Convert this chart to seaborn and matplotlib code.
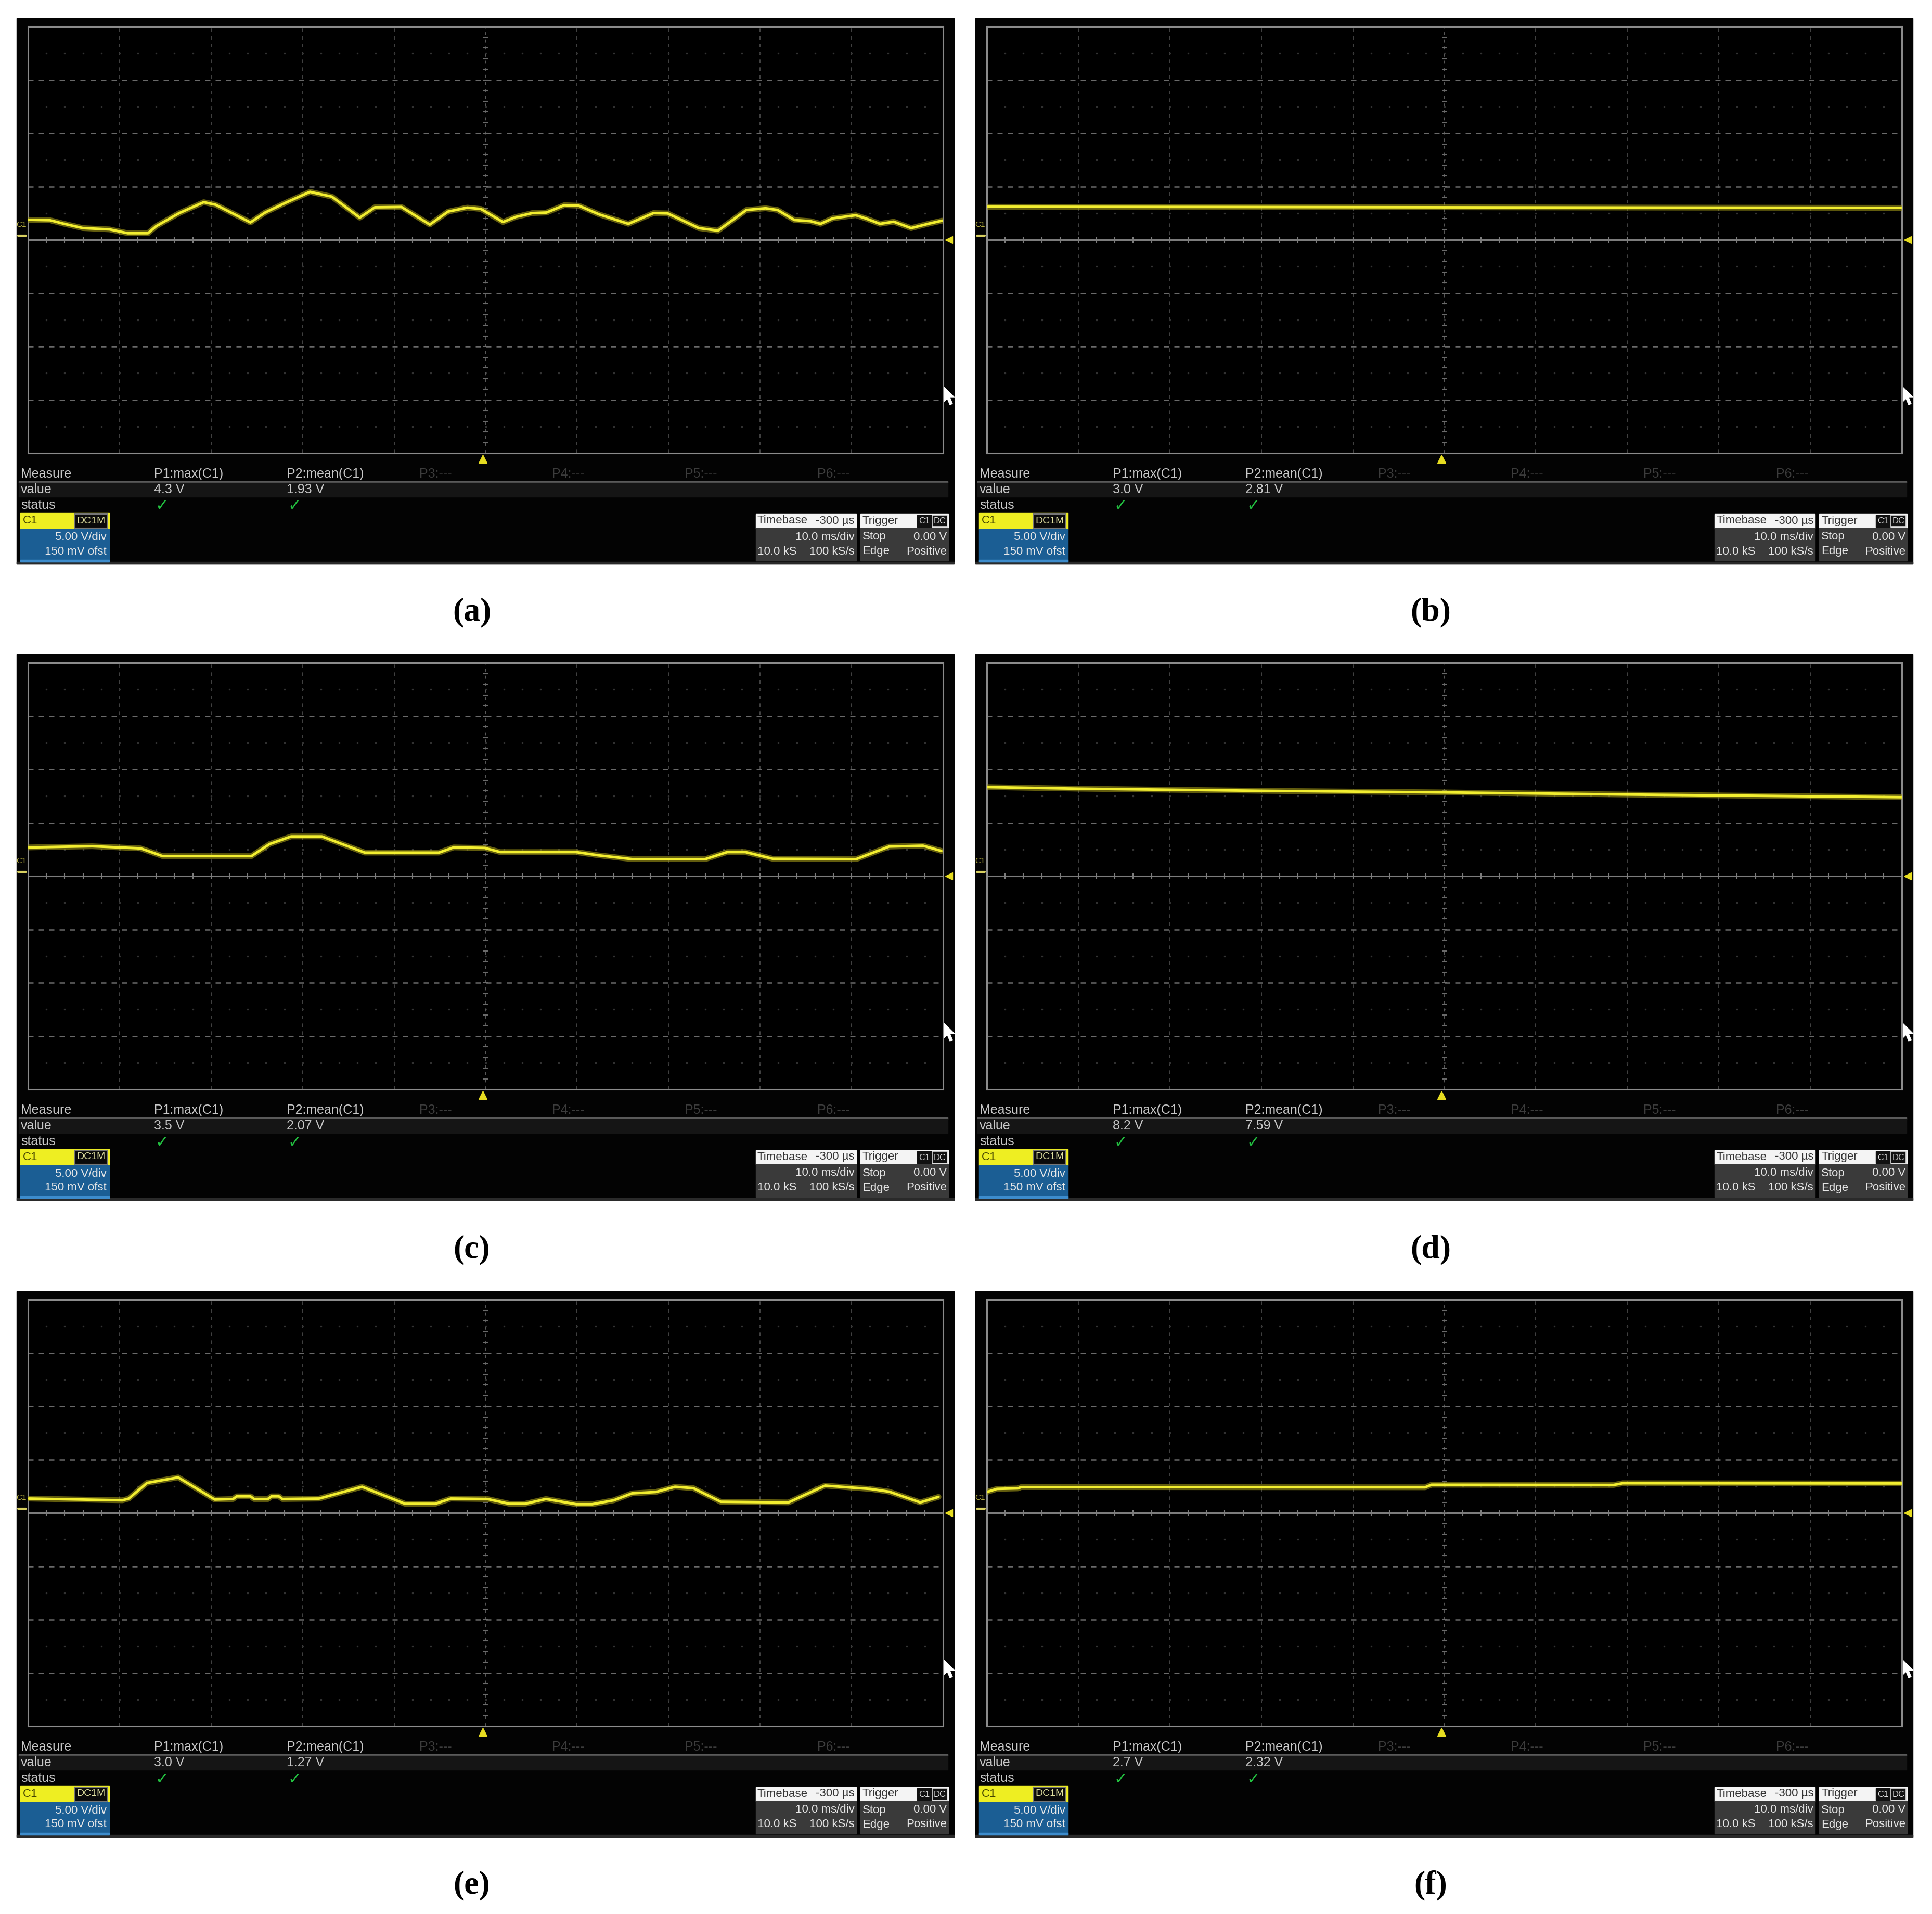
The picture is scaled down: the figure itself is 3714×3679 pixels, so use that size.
import numpy as np
import pandas as pd
import seaborn as sns
import matplotlib.pyplot as plt
from matplotlib.patches import Rectangle, Polygon

# Scope traces: time in ms (10 ms/div, screen centre = 0), voltage in V (5 V/div)
time_a = [-49.9, -47.6, -46.2, -44.0, -41.1, -39.1, -36.9, -36.0, -33.5, -30.8, -29.5, -25.7,
          -24.1, -21.9, -19.2, -16.8, -13.75, -12.1, -9.2, -6.1, -4.1, -2.0, -0.5, 1.9, 3.3,
          5.1, 6.65, 8.6, 10.2, 12.4, 15.6, 18.35, 19.9, 23.3, 25.4, 28.5, 30.6, 31.9, 33.75,
          35.5, 36.6, 37.95, 40.45, 41.6, 43.1, 44.6, 46.5, 48.5, 49.9]
volt_a = [1.88, 1.84, 1.53, 1.10, 0.98, 0.62, 0.62, 1.28, 2.50, 3.53, 3.29, 1.63,
          2.56, 3.46, 4.50, 4.05, 2.08, 3.05, 3.08, 1.43, 2.65, 3.02, 2.89, 1.67, 2.15,
          2.51, 2.56, 3.25, 3.20, 2.39, 1.50, 2.51, 2.48, 1.10, 0.86, 2.80, 2.96, 2.80, 1.86,
          1.75, 1.50, 2.02, 2.31, 1.99, 1.50, 1.70, 1.10, 1.53, 1.80]

time_b = [-50.0, -25.0, 0.0, 25.0, 50.0]
volt_b = [3.1, 3.08, 3.05, 3.02, 3.0]

time_c = [-49.9, -43.0, -37.7, -35.3, -25.6, -23.6, -21.25, -17.9, -13.2, -5.1, -3.5, -0.1,
          1.6, 9.9, 12.3, 16.0, 24.0, 26.4, 28.4, 31.4, 40.5, 44.1, 47.8, 49.8]
volt_c = [2.69, 2.80, 2.60, 1.87, 1.87, 3.01, 3.72, 3.72, 2.20, 2.20, 2.69, 2.64,
          2.25, 2.25, 1.95, 1.59, 1.59, 2.25, 2.25, 1.62, 1.59, 2.77, 2.85, 2.36]

time_d = [-50.0, -40.0, -20.0, 0.0, 20.0, 50.0]
volt_d = [8.35, 8.2, 8.0, 7.85, 7.65, 7.4]

time_e = [-49.9, -39.7, -39.0, -37.0, -33.6, -29.6, -27.6, -27.2, -25.7, -25.3, -23.8, -23.4,
          -22.6, -22.2, -18.2, -13.5, -8.8, -5.5, -3.8, 0.2, 2.6, 4.3, 6.6, 9.9, 11.65, 14.0,
          16.0, 18.6, 20.7, 22.7, 25.7, 33.1, 37.1, 42.1, 44.1, 47.5, 49.5]
volt_e = [1.34, 1.18, 1.34, 2.81, 3.33, 1.25, 1.30, 1.55, 1.55, 1.30, 1.30, 1.55,
          1.55, 1.30, 1.34, 2.45, 0.85, 0.85, 1.34, 1.30, 0.85, 0.85, 1.30, 0.81, 0.81, 1.18,
          1.83, 1.96, 2.45, 2.32, 1.04, 0.98, 2.56, 2.24, 1.99, 0.98, 1.50]

time_f = [-50.0, -48.9, -46.6, -46.25, -2.1, -1.4, 18.5, 19.5, 50.0]
volt_f = [1.96, 2.25, 2.30, 2.42, 2.40, 2.64, 2.62, 2.78, 2.76]

panel_names = ['(a)', '(b)', '(c)', '(d)', '(e)', '(f)']
p1_values = ['4.3 V', '3.0 V', '3.5 V', '8.2 V', '3.0 V', '2.7 V']
p2_values = ['1.93 V', '2.81 V', '2.07 V', '7.59 V', '1.27 V', '2.32 V']
measure_names = ['P1:max(C1)', 'P2:mean(C1)', 'P3:---', 'P4:---', 'P5:---', 'P6:---']

traces = [(time_a, volt_a), (time_b, volt_b), (time_c, volt_c),
          (time_d, volt_d), (time_e, volt_e), (time_f, volt_f)]

sns.set_style('dark')
plt.rcParams['font.family'] = ['Liberation Sans Narrow', 'Liberation Sans', 'DejaVu Sans']

W, H = 3714, 3679
fig = plt.figure(figsize=(W / 100, H / 100), dpi=100)
fig.patch.set_facecolor('white')

# background axes in pixel units for the scope frames and readout boxes
bg = fig.add_axes([0, 0, 1, 1])
bg.set_xlim(0, W)
bg.set_ylim(H, 0)
bg.axis('off')

col_x = [32, 1875]
row_y = [35, 1258, 2482]
label_y = [1177, 2402, 3624]

TXT = '#c8c8c8'
YEL = '#f2ee30'


def txt(x, y, s, size=18, color=TXT, ha='left', **kw):
    bg.text(x, y, s, fontsize=size, color=color, ha=ha, va='center', **kw)


for i, (t, v) in enumerate(traces):
    ox = col_x[i % 2]
    oy = row_y[i // 2]

    # outer black screen
    bg.add_patch(Rectangle((ox, oy), 1802, 1049, color='#030303', zorder=0))
    bg.add_patch(Rectangle((ox, oy + 1045), 1802, 4, color='#2a2a2a', zorder=1))

    # measurement table
    txt(ox + 8, oy + 876, 'Measure')
    for k, name in enumerate(measure_names):
        c = TXT if k < 2 else '#3c3c3c'
        txt(ox + 264 + 255 * k, oy + 876, name, color=c)
    bg.add_patch(Rectangle((ox + 4, oy + 890), 1786, 3, color='#5a5a5a', zorder=1))
    bg.add_patch(Rectangle((ox + 4, oy + 893), 1786, 27, color='#151515', zorder=1))
    txt(ox + 8, oy + 906, 'value')
    txt(ox + 264, oy + 906, p1_values[i])
    txt(ox + 519, oy + 906, p2_values[i])
    txt(ox + 8, oy + 936, 'status')
    for k in range(2):
        txt(ox + 266 + 255 * k, oy + 938, '\u2713', size=22, color='#22c040',
            family='DejaVu Sans', fontweight='bold')

    # channel box
    bg.add_patch(Rectangle((ox + 7, oy + 951), 171, 31, color='#eeee22', zorder=1))
    bg.add_patch(Rectangle((ox + 112, oy + 953), 62, 27, facecolor='#0a0a0a',
                           edgecolor='#777777', lw=1.5, zorder=2))
    bg.add_patch(Rectangle((ox + 7, oy + 982), 171, 63, color='#1b5e94', zorder=1))
    bg.add_patch(Rectangle((ox + 7, oy + 1041), 171, 4, color='#3d8ccc', zorder=2))
    txt(ox + 12, oy + 966, 'C1', size=16, color='#444400')
    txt(ox + 143, oy + 966, 'DC1M', size=14, color='#e0e0a0', ha='center')
    txt(ox + 173, oy + 998, '5.00 V/div', size=16, color='#e8e8e8', ha='right')
    txt(ox + 173, oy + 1025, '150 mV ofst', size=16, color='#e8e8e8', ha='right')

    # timebase box
    bg.add_patch(Rectangle((ox + 1421, oy + 953), 193, 27, color='#f4f4f4', zorder=1))
    bg.add_patch(Rectangle((ox + 1421, oy + 980), 193, 63, color='#3a3a3a', zorder=1))
    txt(ox + 1424, oy + 966, 'Timebase', size=16, color='#333333')
    txt(ox + 1611, oy + 966, '-300 \u00b5s', size=16, color='#333333', ha='right')
    txt(ox + 1611, oy + 997, '10.0 ms/div', size=16, color='#e6e6e6', ha='right')
    txt(ox + 1424, oy + 1025, '10.0 kS', size=16, color='#e6e6e6')
    txt(ox + 1611, oy + 1025, '100 kS/s', size=16, color='#e6e6e6', ha='right')

    # trigger box
    bg.add_patch(Rectangle((ox + 1622, oy + 953), 169, 27, color='#f4f4f4', zorder=1))
    bg.add_patch(Rectangle((ox + 1622, oy + 980), 169, 63, color='#3a3a3a', zorder=1))
    bg.add_patch(Rectangle((ox + 1731, oy + 955), 28, 23, color='#111111', zorder=2))
    bg.add_patch(Rectangle((ox + 1760, oy + 955), 29, 23, facecolor='#111111',
                           edgecolor='#dddddd', lw=1.2, zorder=2))
    txt(ox + 1626, oy + 966, 'Trigger', size=16, color='#333333')
    bg.text(ox + 1745, oy + 967, 'C1', fontsize=12, color='#e0e0e0', ha='center',
            va='center', zorder=3)
    bg.text(ox + 1774.5, oy + 967, 'DC', fontsize=12, color='#e0e0e0', ha='center',
            va='center', zorder=3)
    txt(ox + 1626, oy + 997, 'Stop', size=16, color='#e6e6e6')
    txt(ox + 1788, oy + 997, '0.00 V', size=16, color='#e6e6e6', ha='right')
    txt(ox + 1626, oy + 1025, 'Edge', size=16, color='#e6e6e6')
    txt(ox + 1788, oy + 1025, 'Positive', size=16, color='#e6e6e6', ha='right')

    # mouse pointer at the right edge
    cx, cy = ox + 1782, oy + 708
    arrow = np.array([[0, 0], [0, 30], [7, 23], [12, 35], [17, 33], [12, 21], [21, 21]])
    bg.add_patch(Polygon(arrow + [cx, cy], closed=True, color='white', zorder=5))

    # panel caption
    bg.text(ox + 875, label_y[i // 2], panel_names[i], fontsize=46, ha='center', va='center',
            family='Liberation Serif', fontweight='bold', color='black')

    # scope grid area
    gx0, gx1 = ox + 22, ox + 1781
    gy0, gy1 = oy + 16, oy + 836
    ax = fig.add_axes([gx0 / W, 1 - gy1 / H, (gx1 - gx0) / W, (gy1 - gy0) / H])
    ax.set_facecolor('black')

    for xv in range(-40, 50, 10):
        if xv != 0:
            ax.axvline(xv, color='#4e4e4e', lw=1.2, ls=(0, (4, 5)), zorder=1)
    for yv in [-15, -10, -5, 5, 10, 15]:
        ax.axhline(yv, color='#6a6a6a', lw=1.8, ls=(0, (4, 4)), zorder=1)
    half_rows = np.array([-17.5, -12.5, -7.5, -2.5, 2.5, 7.5, 12.5, 17.5])
    dot_t = np.arange(-48, 50, 2)
    for yv in half_rows:
        ax.plot(dot_t, np.full(dot_t.shape, yv), ls='none', marker='s', ms=1.6,
                color='#333333', zorder=1)
    # centre cross with fine ticks
    ax.axhline(0, color='#7c7c7c', lw=2.2, zorder=2)
    ax.plot(dot_t, np.zeros(dot_t.shape), ls='none', marker='|', ms=9, mew=1.5,
            color='#7c7c7c', zorder=2)
    ax.axvline(0, color='#5a5a5a', lw=1.4, ls=(0, (3, 4)), zorder=1)
    dot_v = np.arange(-19, 20, 1)
    ax.plot(np.zeros(dot_v.shape), dot_v, ls='none', marker='_', ms=7, mew=1.5,
            color='#6a6a6a', zorder=2)

    sns.lineplot(x=t, y=v, ax=ax, color='#a49a18', lw=8, alpha=0.6, estimator=None,
                 sort=False, zorder=3)
    sns.lineplot(x=t, y=v, ax=ax, color=YEL, lw=3.5, estimator=None, sort=False, zorder=4)

    ax.set_xlim(-50, 50)
    ax.set_ylim(-20, 20)
    ax.set_xticks([])
    ax.set_yticks([])
    ax.set_xlabel('')
    ax.set_ylabel('')
    ax.grid(False)
    for s in ax.spines.values():
        s.set_color('#8c8c8c')
        s.set_linewidth(2.2)
        s.set_visible(True)

    # trigger, ground and channel markers
    ax.plot([-0.3], [-0.014], marker='^', ms=11, color='#e6dc20',
            transform=ax.get_xaxis_transform(), clip_on=False)
    ax.plot([1.006], [0], marker='<', ms=10, color='#e6dc20',
            transform=ax.get_yaxis_transform(), clip_on=False)
    ax.text(-0.002, 1.4, 'C1', transform=ax.get_yaxis_transform(), ha='right',
            va='center', fontsize=11, color='#b8b040')
    ax.plot([-0.011, -0.002], [0.4, 0.4], color='#d8d060', lw=3,
            transform=ax.get_yaxis_transform(), clip_on=False)

fig.savefig('out.png', dpi=100, facecolor='white')
